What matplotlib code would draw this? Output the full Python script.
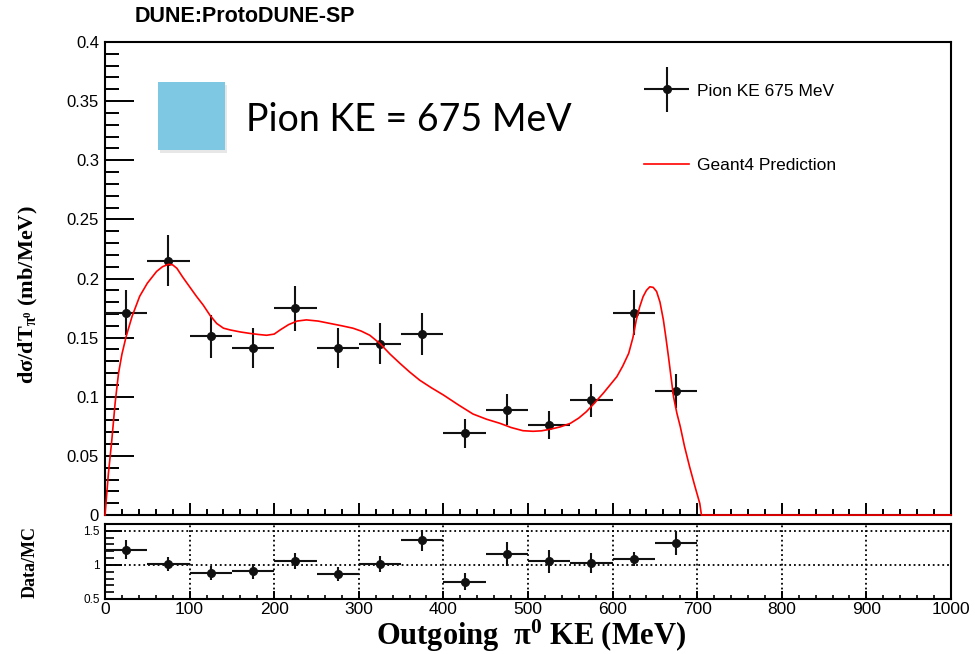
import numpy as np
import matplotlib
matplotlib.use("Agg")
import matplotlib.pyplot as plt
from matplotlib.ticker import MultipleLocator, FuncFormatter
from matplotlib.legend_handler import HandlerErrorbar
from matplotlib.container import ErrorbarContainer
from matplotlib.patches import Rectangle

# measured pi0 spectrum (bin centres in MeV, 50 MeV bins)
bin_centers = [25, 75, 125, 175, 225, 275, 325, 375, 425, 475, 525, 575, 625, 675]
bin_halfwidth = 25
xsec = [0.171, 0.215, 0.151, 0.141, 0.175, 0.141, 0.145, 0.153,
        0.069, 0.089, 0.076, 0.097, 0.171, 0.105]
xsec_err = [0.019, 0.0215, 0.018, 0.017, 0.019, 0.017, 0.0173, 0.018,
            0.012, 0.013, 0.012, 0.014, 0.019, 0.0145]

# data / MC ratio
ratio = [1.22, 1.015, 0.88, 0.91, 1.06, 0.87, 1.01, 1.36,
         0.755, 1.16, 1.05, 1.025, 1.09, 1.32]
ratio_err = [0.14, 0.10, 0.10, 0.11, 0.12, 0.10, 0.12, 0.15,
             0.12, 0.17, 0.17, 0.15, 0.10, 0.17]

# Geant4 prediction curve
g4_ke = [0, 4, 8, 12, 16, 20, 25, 32, 41, 50, 61, 68, 75, 80, 85, 92, 100,
         108, 116, 124, 132, 140, 148, 160, 171, 181, 191, 200, 207, 217,
         227, 238, 252, 266, 280, 293, 303, 313, 325, 337, 349, 360, 372,
         386, 400, 418, 435, 451, 467, 480, 494, 506, 516, 526, 538, 550,
         560, 569, 579, 589, 597, 605, 612, 619, 624, 628, 632, 636, 640,
         644, 648, 652, 656, 660, 663, 666, 669, 672, 676, 680, 685, 691,
         697, 703, 705, 1000]
g4_xsec = [0.0, 0.035, 0.063, 0.095, 0.120, 0.136, 0.151, 0.168, 0.185,
           0.196, 0.206, 0.210, 0.212, 0.2115, 0.2086, 0.201, 0.193, 0.185,
           0.1776, 0.169, 0.162, 0.158, 0.1565, 0.1548, 0.1536, 0.1527,
           0.152, 0.153, 0.1565, 0.161, 0.164, 0.165, 0.164, 0.162, 0.160,
           0.158, 0.1555, 0.152, 0.145, 0.136, 0.128, 0.121, 0.114, 0.1075,
           0.1015, 0.093, 0.0854, 0.081, 0.0775, 0.074, 0.0713, 0.0708,
           0.0712, 0.0725, 0.0745, 0.0775, 0.082, 0.0874, 0.095, 0.103,
           0.110, 0.117, 0.126, 0.1367, 0.150, 0.165, 0.176, 0.1846, 0.190,
           0.193, 0.1925, 0.189, 0.180, 0.165, 0.150, 0.134, 0.117, 0.100,
           0.086, 0.0747, 0.058, 0.0408, 0.025, 0.0099, 0.0, 0.0]

plt.rcParams["font.family"] = ["Liberation Sans", "DejaVu Sans"]
plt.rcParams["mathtext.fontset"] = "custom"
plt.rcParams["mathtext.rm"] = "Liberation Serif:bold"
plt.rcParams["mathtext.it"] = "Liberation Serif:bold"
plt.rcParams["mathtext.bf"] = "Liberation Serif:bold"

fig = plt.figure(figsize=(9.75, 6.54), dpi=100)
ax = fig.add_axes([0.1077, 0.2125, 0.8677, 0.7233])
rax = fig.add_axes([0.1077, 0.0841, 0.8677, 0.1147])

pt_color = "#111111"

# main panel
eb = ax.errorbar(bin_centers, xsec, xerr=bin_halfwidth, yerr=xsec_err,
                 fmt="o", color=pt_color, ms=5.5, elinewidth=1.5,
                 capsize=0, zorder=3)
g4_line, = ax.plot(g4_ke, g4_xsec, color="#ff0000", lw=1.2, zorder=4,
                   clip_on=False)

ax.set_xlim(0, 1000)
ax.set_ylim(0, 0.4)
ax.xaxis.set_major_locator(MultipleLocator(100))
ax.xaxis.set_minor_locator(MultipleLocator(20))
ax.yaxis.set_major_locator(MultipleLocator(0.05))
ax.yaxis.set_minor_locator(MultipleLocator(0.01))
ax.yaxis.set_major_formatter(FuncFormatter(lambda v, p: "%g" % round(v, 3)))
ax.tick_params(axis="x", which="major", direction="in", length=8.6,
               width=1.4, labelbottom=False)
ax.tick_params(axis="x", which="minor", direction="in", length=4.3, width=1.4)
ax.tick_params(axis="y", which="major", direction="in", length=21,
               width=1.4, labelsize=12, pad=4.3)
ax.tick_params(axis="y", which="minor", direction="in", length=10, width=1.4)
for s in ax.spines.values():
    s.set_linewidth(1.5)

leg = ax.legend([eb, g4_line], ["Pion KE 675 MeV", "Geant4 Prediction"],
                loc="upper left", bbox_to_anchor=(0.627, 0.933),
                frameon=False, fontsize=12.5, borderpad=0,
                handlelength=2.6, handleheight=1.0, handletextpad=0.45,
                labelspacing=3.32, numpoints=1,
                handler_map={ErrorbarContainer:
                             HandlerErrorbar(xerr_size=1.3, yerr_size=1.3)})

# ratio panel
rax.errorbar(bin_centers, ratio, xerr=bin_halfwidth, yerr=ratio_err,
             fmt="o", color=pt_color, ms=5.5, elinewidth=1.5, capsize=0,
             zorder=3)
rax.set_xlim(0, 1000)
rax.set_ylim(0.5, 1.6)
rax.xaxis.set_major_locator(MultipleLocator(100))
rax.xaxis.set_minor_locator(MultipleLocator(20))
rax.yaxis.set_major_locator(MultipleLocator(0.5))
rax.yaxis.set_minor_locator(MultipleLocator(0.1))
rax.yaxis.set_major_formatter(FuncFormatter(lambda v, p: "%g" % v))
rax.grid(True, which="major", ls=":", color="black", lw=1.3)
rax.tick_params(axis="x", which="major", direction="in", length=6,
                width=1.4, labelsize=12.5, pad=2)
rax.tick_params(axis="x", which="minor", direction="in", length=3, width=1.2)
rax.tick_params(axis="y", which="major", direction="in", length=12,
                width=1.4, labelsize=8.5, pad=3.6)
rax.tick_params(axis="y", which="minor", direction="in", length=6.5,
                width=1.2)
for s in rax.spines.values():
    s.set_linewidth(1.5)

# labels
fig.text(245 / 975, 1 - 17 / 654, "DUNE:ProtoDUNE-SP", ha="center",
         va="center", fontsize=15.5, fontweight="bold")
fig.text(28 / 975, 1 - 295 / 654, r"d$\mathrm{σ}$/dT$_{\mathrm{π}^{0}}$ (mb/MeV)",
         rotation=90, ha="center", va="center", fontsize=16,
         family="Liberation Serif", fontweight="bold")
fig.text(30 / 975, 1 - 562 / 654, "Data/MC", rotation=90, ha="center",
         va="center", fontsize=13, family="Liberation Serif",
         fontweight="bold")
fig.text(531 / 975, 1 - 636 / 654, r"Outgoing  $\mathrm{π}^{0}$ KE (MeV)",
         ha="center", va="center", fontsize=22, family="Liberation Serif",
         fontweight="bold")

# energy tag box
fig.patches.append(Rectangle((160 / 975, 1 - 153 / 654), 67 / 975, 68 / 654,
                             transform=fig.transFigure, color="#d8d8d8",
                             alpha=0.6, lw=0, zorder=1))
fig.patches.append(Rectangle((158 / 975, 1 - 150 / 654), 67 / 975, 68 / 654,
                             transform=fig.transFigure, color="#7ec8e3",
                             lw=0, zorder=2))
fig.text(246 / 975, 1 - 131 / 654, "Pion KE = 675 MeV", ha="left",
         va="baseline", fontsize=27, family="Lato", color="black")

fig.savefig("out.png", dpi=100)
